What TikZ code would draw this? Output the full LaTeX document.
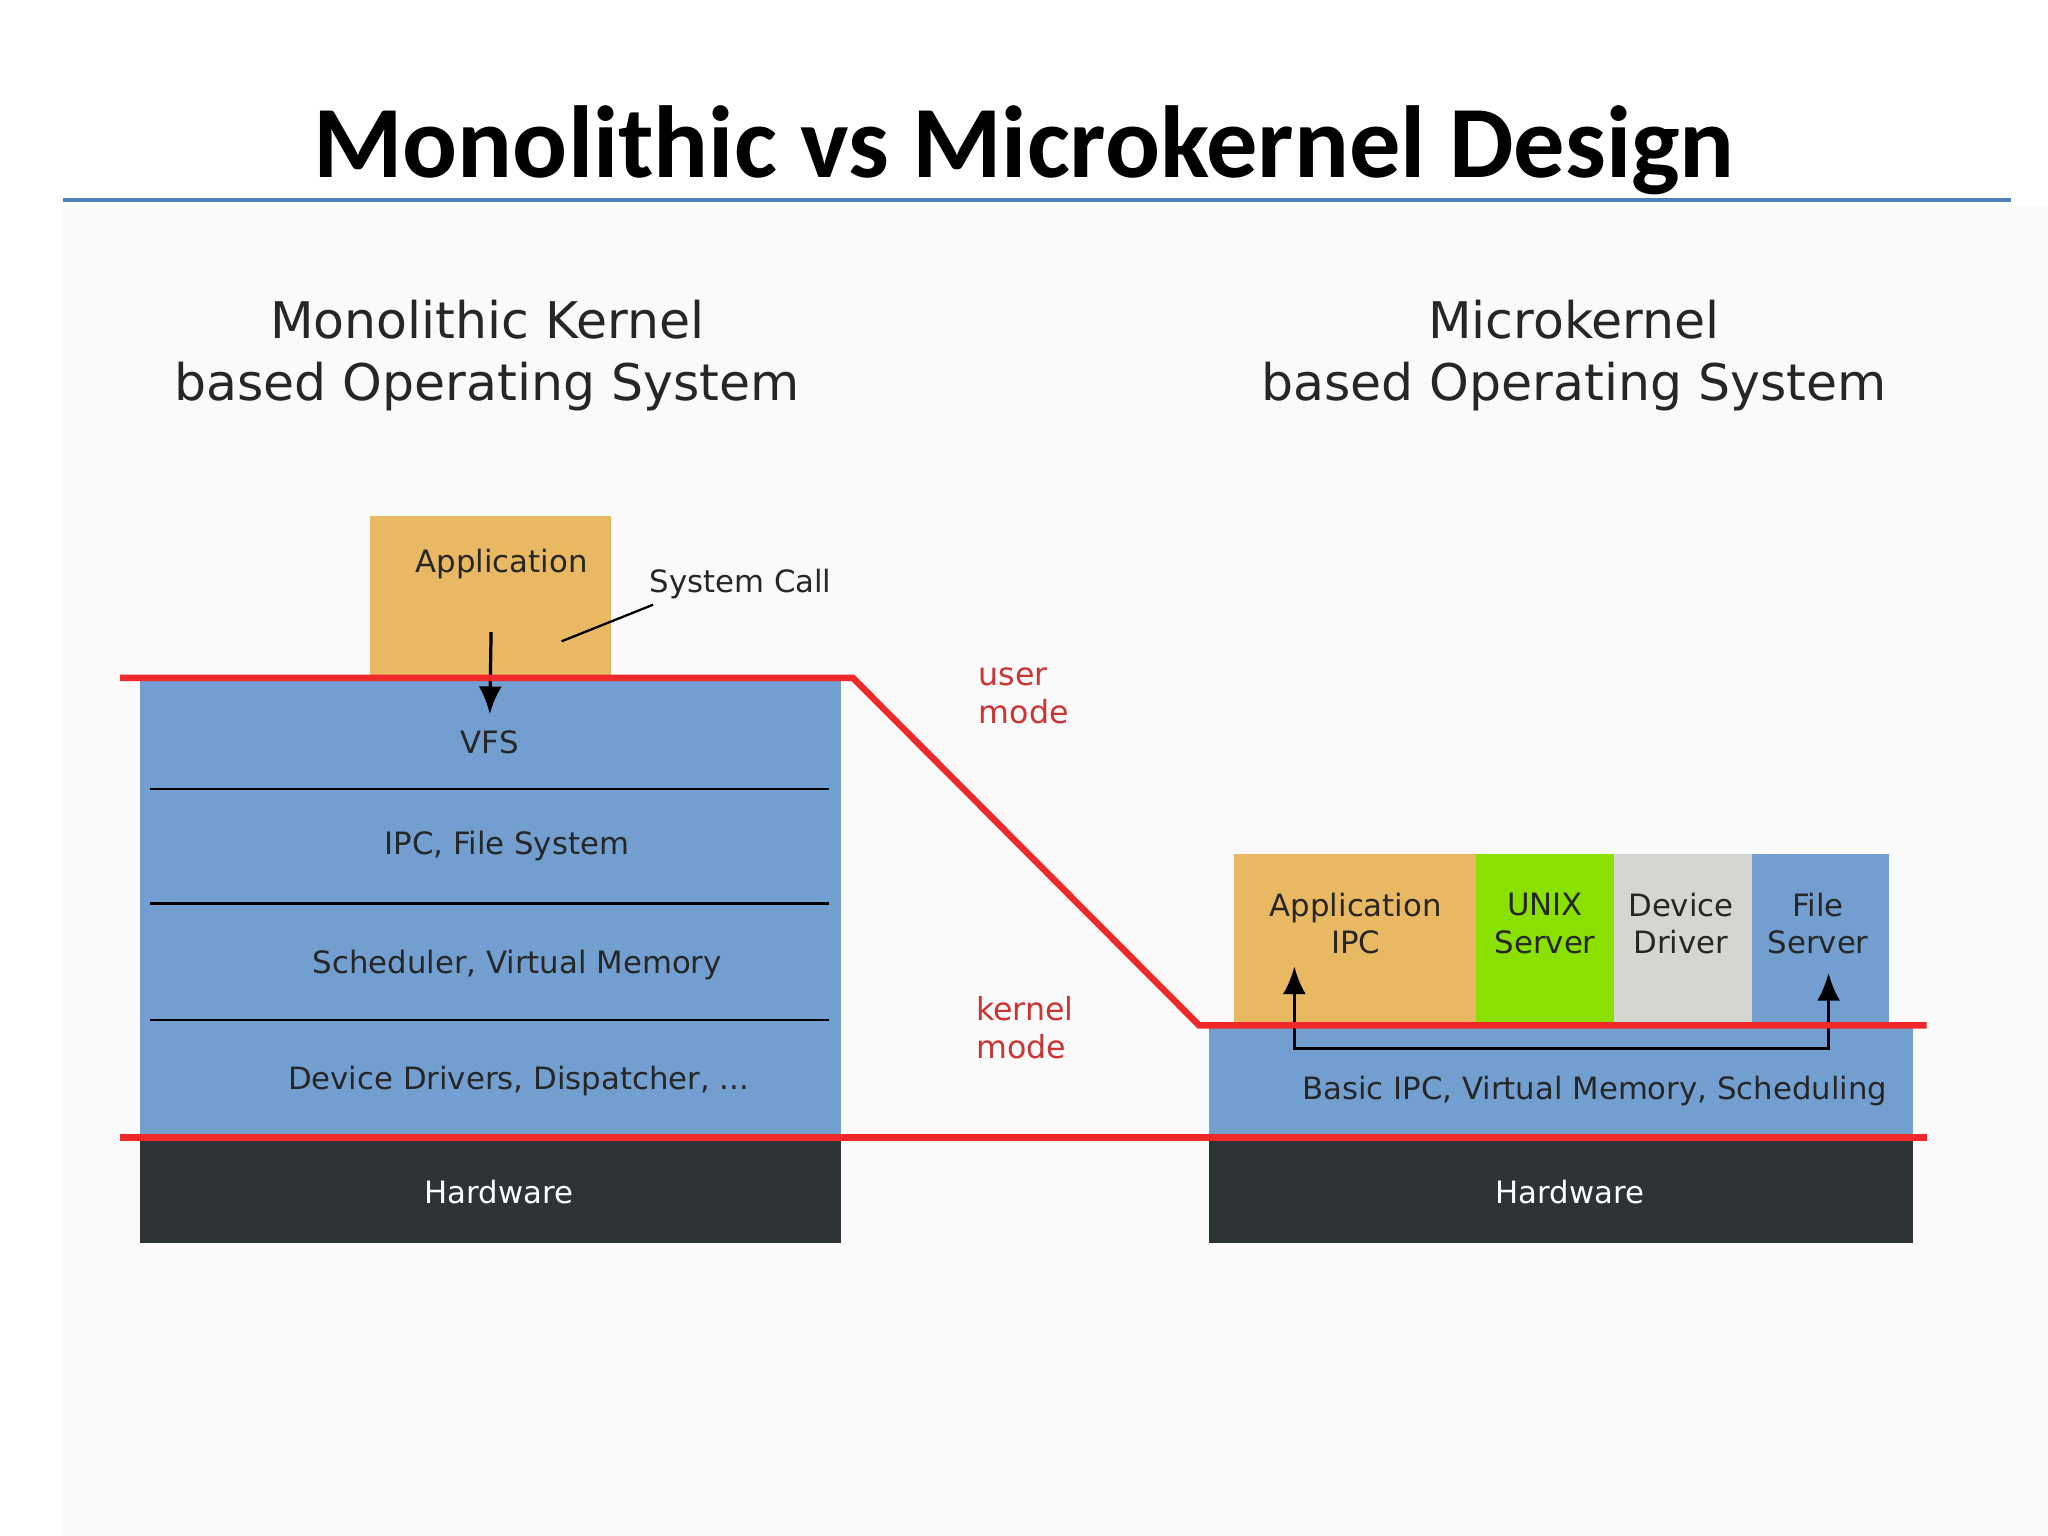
\documentclass[tikz,border=0pt]{standalone}
\usepackage{fontspec}
\setmainfont{DejaVu Sans}
\newfontfamily\titlefont{Carlito}
\usetikzlibrary{arrows.meta}
\definecolor{appor}{HTML}{E9B863}
\definecolor{kblue}{HTML}{729FCF}
\definecolor{hwgray}{HTML}{2E3436}
\definecolor{redl}{HTML}{EF2929}
\definecolor{redt}{HTML}{CC3333}
\definecolor{ugreen}{HTML}{8AE000}
\definecolor{dgray}{HTML}{D3D7CF}
\definecolor{tblue}{HTML}{4F81BD}
\tikzset{
 blk/.style={draw=none,inner sep=0pt},
 lbl/.style={font=\fontsize{6.7}{8.2}\selectfont,text=black!85,align=center},
 sub/.style={font=\fontsize{11}{13.5}\selectfont,text=black!85,align=center},
 modet/.style={font=\fontsize{6.9}{8.3}\selectfont,text=redt,align=left,anchor=west},
 redline/.style={draw=redl,line width=1.4pt},
 sep/.style={draw=black,line width=0.6pt}
}
\begin{document}
\begin{tikzpicture}[x=0.01cm,y=-0.01cm]
\useasboundingbox (0,0) rectangle (1568,1176);
\fill[white] (0,0) rectangle (1568,1176);
\fill[black!2] (48,158) rectangle (1568,1176);
\node[font=\titlefont\bfseries\fontsize{22.3}{26}\selectfont] (title) at (784,115) {Monolithic vs Microkernel Design};
\draw[tblue,line width=1pt] (48,153) -- (1540,153);
\node[sub] (subl) at (373,272) {Monolithic Kernel\\based Operating System};
\node[sub] (subr) at (1205,272) {Microkernel\\based Operating System};
% left
\fill[appor] (283,395) rectangle (468,519);
\node[lbl] (app) at (384,432) {Application};
\node[lbl] (sc) at (567,447) {System Call};
\coordinate (sca) at (500,463); \coordinate (scb) at (430,491);
\draw[line width=0.5pt] (sca) -- (scb);
\fill[kblue] (107,519) rectangle (644,870);
\draw[sep] (115,604) -- (635,604);
\draw[sep] (115,692) -- (635,692);
\draw[sep] (115,781) -- (635,781);
\node[lbl] (vfs) at (375,568) {VFS};
\node[lbl] (ipc) at (388,648) {IPC, File System};
\node[lbl] (sch) at (396,739) {Scheduler, Virtual Memory};
\node[lbl] (dd) at (397,828) {Device Drivers, Dispatcher, ...};
\coordinate (a1) at (376,484);
\draw[-{Latex[length=6pt,width=5pt]},line width=0.7pt] (a1) -- (vfs.north);
\fill[hwgray] (107,870) rectangle (644,952);
\node[lbl,text=white] (hwl) at (382,913) {Hardware};
% right
\fill[appor] (945,654) rectangle (1130,785);
\fill[ugreen] (1130,654) rectangle (1236,785);
\fill[dgray] (1236,654) rectangle (1341,785);
\fill[kblue] (1341,654) rectangle (1446,785);
\node[lbl] (aipc) at (1038,707) {Application\\IPC};
\node[lbl] (unix) at (1183,707) {UNIX\\Server};
\node[lbl] (devd) at (1287,707) {Device\\Driver};
\node[lbl] (fs) at (1392,707) {File\\Server};
\fill[kblue] (926,785) rectangle (1465,870);
\node[lbl] (basic) at (1221,835) {Basic IPC, Virtual Memory, Scheduling};
\fill[hwgray] (926,870) rectangle (1465,952);
\node[lbl,text=white] (hwr) at (1202,913) {Hardware};
\coordinate (p1) at (991,740); \coordinate (p2) at (991,803);
\coordinate (p3) at (1400,803); \coordinate (p4) at (1400,745);
\draw[{Latex[length=6pt,width=5pt]}-{Latex[length=6pt,width=5pt]},line width=0.7pt] (p1) -- (p2) -- (p3) -- (p4);
% red lines
\draw[redline] (92,519) -- (653,519) -- (918,785) -- (1475,785);
\draw[redline] (92,871) -- (1475,871);
\node[modet] (um) at (737,533) {user\\mode};
\node[modet] (km) at (735,787) {kernel\\mode};
\end{tikzpicture}
\end{document}
